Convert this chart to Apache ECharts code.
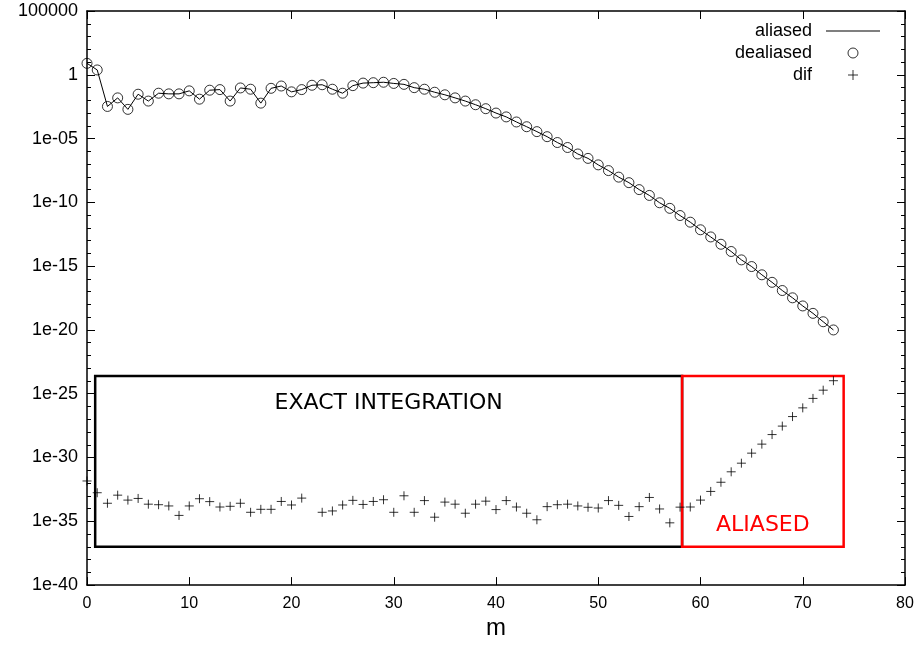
<!DOCTYPE html>
<html>
<head>
<meta charset="utf-8">
<script src="https://cdn.jsdelivr.net/npm/echarts@6/dist/echarts.min.js"></script>
<style>
  html, body { margin: 0; padding: 0; background: #fff; }
  #chart { width: 922px; height: 645px; }
</style>
</head>
<body>
<div id="chart"></div>
<script>
// Mode index m = 0 .. 73
const modes = [
  0, 1, 2, 3, 4, 5, 6, 7, 8, 9, 10, 11, 12, 13, 14, 15, 16, 17, 18, 19,
  20, 21, 22, 23, 24, 25, 26, 27, 28, 29, 30, 31, 32, 33, 34, 35, 36, 37, 38, 39,
  40, 41, 42, 43, 44, 45, 46, 47, 48, 49, 50, 51, 52, 53, 54, 55, 56, 57, 58, 59,
  60, 61, 62, 63, 64, 65, 66, 67, 68, 69, 70, 71, 72, 73
];

// Coefficients from the aliased computation
const aliased = [
  7.9, 2.4, 3.3e-3, 1.55e-2, 1.95e-3, 3.0e-2, 8.7e-3, 3.6e-2, 3.2e-2, 3.2e-2,
  5.5e-2, 1.23e-2, 6.2e-2, 6.9e-2, 8.7e-3, 9.3e-2, 7.4e-2, 6.0e-3, 8.7e-2, 1.32e-1,
  4.6e-2, 6.9e-2, 1.51e-1, 1.66e-1, 7.4e-2, 3.6e-2, 1.41e-1, 2.24e-1, 2.4e-1, 2.6e-1,
  2.1e-1, 1.78e-1, 9.8e-2, 7.4e-2, 4.3e-2, 2.7e-2, 1.55e-2, 8.7e-3, 4.5e-3, 2.2e-3,
  1.0e-3, 5.0e-4, 2.0e-4, 8.5e-5, 3.5e-5, 1.41e-5, 4.9e-6, 2.0e-6, 6.2e-7, 2.8e-7,
  8.7e-8, 3.1e-8, 9.5e-9, 3.5e-9, 1.0e-9, 3.5e-10, 9.3e-11, 3.4e-11, 9.3e-12, 2.8e-12,
  7.1e-13, 1.95e-13, 5.2e-14, 1.41e-14, 3.1e-15, 9.3e-16, 2.1e-16, 5.4e-17, 1.23e-17, 3.3e-18,
  7.6e-19, 2.0e-19, 4.4e-20, 1.0e-20
];

// Coefficients from the dealiased computation (identical at plotting resolution)
const dealiased = [
  7.9, 2.4, 3.3e-3, 1.55e-2, 1.95e-3, 3.0e-2, 8.7e-3, 3.6e-2, 3.2e-2, 3.2e-2,
  5.5e-2, 1.23e-2, 6.2e-2, 6.9e-2, 8.7e-3, 9.3e-2, 7.4e-2, 6.0e-3, 8.7e-2, 1.32e-1,
  4.6e-2, 6.9e-2, 1.51e-1, 1.66e-1, 7.4e-2, 3.6e-2, 1.41e-1, 2.24e-1, 2.4e-1, 2.6e-1,
  2.1e-1, 1.78e-1, 9.8e-2, 7.4e-2, 4.3e-2, 2.7e-2, 1.55e-2, 8.7e-3, 4.5e-3, 2.2e-3,
  1.0e-3, 5.0e-4, 2.0e-4, 8.5e-5, 3.5e-5, 1.41e-5, 4.9e-6, 2.0e-6, 6.2e-7, 2.8e-7,
  8.7e-8, 3.1e-8, 9.5e-9, 3.5e-9, 1.0e-9, 3.5e-10, 9.3e-11, 3.4e-11, 9.3e-12, 2.8e-12,
  7.1e-13, 1.95e-13, 5.2e-14, 1.41e-14, 3.1e-15, 9.3e-16, 2.1e-16, 5.4e-17, 1.23e-17, 3.3e-18,
  7.6e-19, 2.0e-19, 4.4e-20, 1.0e-20
];

// |aliased - dealiased|; m = 22 is exactly zero and has no point on a log scale
const dif = [
  1.45e-32, 1.74e-33, 2.6e-34, 1.12e-33, 4.6e-34, 6.2e-34, 2.2e-34, 2.0e-34, 1.6e-34, 2.9e-35,
  1.6e-34, 5.9e-34, 3.5e-34, 1.32e-34, 1.5e-34, 2.6e-34, 5.1e-35, 8.7e-35, 8.7e-35, 3.6e-34,
  1.9e-34, 6.6e-34, null, 5.1e-35, 6.5e-35, 1.9e-34, 4.4e-34, 2.1e-34, 3.6e-34, 4.9e-34,
  5.1e-35, 1.0e-33, 5.1e-35, 4.2e-34, 2.1e-35, 3.2e-34, 2.2e-34, 4.3e-35, 2.2e-34, 3.8e-34,
  8.3e-35, 4.2e-34, 1.32e-34, 4.3e-35, 1.32e-35, 1.41e-34, 2.0e-34, 2.2e-34, 1.6e-34, 1.26e-34,
  1.1e-34, 4.2e-34, 1.78e-34, 2.4e-35, 1.41e-34, 7.4e-34, 9.3e-35, 7.6e-36, 1.29e-34, 1.32e-34,
  4.6e-34, 2.2e-33, 1.15e-32, 7.6e-32, 3.6e-31, 2.2e-30, 1.12e-29, 6.3e-29, 2.9e-28, 1.62e-27,
  7.8e-27, 4.3e-26, 1.9e-25, 1.05e-24
];

// Region boxes: [m from, m to], [value low, value high]
const exactRegion = { m: [0.8, 58.2], v: [1e-37, 2.5e-24], label: 'EXACT INTEGRATION' };
const aliasedRegion = { m: [58.2, 74], v: [1e-37, 2.5e-24], label: 'ALIASED' };

// The y axis spans 1e-40 .. 1e5, far below what ECharts' log scale can round
// without collapsing to zero, so values are placed on a decade (log10) axis.
const Y_MIN = 1e-40, Y_MAX = 1e5, DECADES_PER_LABEL = 5;
const dec = (v) => Math.log10(v);
const pairs = (ys) => modes
  .map((m, i) => [m, ys[i]])
  .filter(p => p[1] !== null && p[1] > 0)
  .map(p => [p[0], dec(p[1])]);

const FONT = 'Liberation Sans, Arial, Helvetica, sans-serif';
const PLUS = 'path://M0,5L10,5M5,0L5,10';
const LINE_ICON = 'path://M0,0L54,0L54,1.2L0,1.2Z';

function decadeLabel(e) {
  e = Math.round(e);
  if (e >= 0) return String(Math.pow(10, e));
  return '1e-' + String(-e).padStart(2, '0');
}

const majorTick = { show: true, inside: true, length: 8, lineStyle: { color: '#000', width: 1 } };
const frameLine = { show: true, onZero: false, lineStyle: { color: '#000', width: 1.5 } };
const minorTick = { show: true, splitNumber: DECADES_PER_LABEL, length: 4, lineStyle: { color: '#000', width: 1 } };

const chart = echarts.init(document.getElementById('chart'), null, { renderer: 'canvas' });

chart.setOption({
  backgroundColor: '#fff',
  animation: false,
  textStyle: { fontFamily: FONT },
  grid: { left: 87, right: 17, top: 11, bottom: 52, containLabel: false },
  legend: {
    orient: 'vertical',
    align: 'right',
    right: 42,
    top: 22,
    padding: 0,
    itemWidth: 54,
    itemHeight: 10,
    itemGap: 4,
    selectedMode: false,
    textStyle: { fontFamily: FONT, fontSize: 18, color: '#000', padding: [0, 9, 0, 0] },
    data: [
      { name: 'aliased', icon: LINE_ICON, itemStyle: { color: '#000', borderWidth: 0 } },
      { name: 'dealiased', icon: 'circle', itemStyle: { color: '#fff', borderColor: '#000', borderWidth: 1 } },
      { name: 'dif', icon: PLUS, itemStyle: { color: 'none', borderColor: '#000', borderWidth: 1 } }
    ]
  },
  xAxis: [
    {
      type: 'value', position: 'bottom', min: 0, max: 80, interval: 10,
      axisLine: frameLine, axisTick: majorTick, splitLine: { show: false },
      axisLabel: { color: '#000', fontSize: 16, margin: 10, fontFamily: FONT },
      name: 'm', nameLocation: 'middle', nameGap: 24,
      nameTextStyle: { color: '#000', fontSize: 24, fontFamily: FONT }
    },
    {
      type: 'value', position: 'top', min: 0, max: 80, interval: 10,
      axisLine: frameLine, axisTick: majorTick, splitLine: { show: false },
      axisLabel: { show: false }
    }
  ],
  yAxis: [
    {
      type: 'value', position: 'left', min: dec(Y_MIN), max: dec(Y_MAX), interval: DECADES_PER_LABEL,
      axisLine: frameLine, axisTick: majorTick, minorTick: minorTick,
      splitLine: { show: false }, minorSplitLine: { show: false },
      axisLabel: { color: '#000', fontSize: 18, margin: 9, fontFamily: FONT, formatter: decadeLabel }
    },
    {
      type: 'value', position: 'right', min: dec(Y_MIN), max: dec(Y_MAX), interval: DECADES_PER_LABEL,
      axisLine: frameLine, axisTick: majorTick, minorTick: minorTick,
      splitLine: { show: false }, minorSplitLine: { show: false },
      axisLabel: { show: false }
    }
  ],
  series: [
    {
      name: 'aliased', type: 'line', xAxisIndex: 0, yAxisIndex: 0,
      data: pairs(aliased), showSymbol: false, symbol: 'none',
      lineStyle: { color: '#000', width: 1 }, itemStyle: { color: '#000' },
      z: 3
    },
    {
      name: 'dealiased', type: 'scatter', xAxisIndex: 0, yAxisIndex: 0,
      data: pairs(dealiased), symbol: 'circle', symbolSize: 10,
      itemStyle: { color: 'none', borderColor: '#000', borderWidth: 1 },
      z: 4
    },
    {
      name: 'dif', type: 'scatter', xAxisIndex: 0, yAxisIndex: 0,
      data: pairs(dif), symbol: PLUS, symbolSize: 9,
      itemStyle: { color: 'none', borderColor: '#000', borderWidth: 1 },
      z: 4
    },
    {
      name: 'regions', type: 'line', xAxisIndex: 0, yAxisIndex: 0,
      data: [], silent: true, z: 2,
      markArea: {
        silent: true,
        data: [
          [
            {
              coord: [exactRegion.m[0], dec(exactRegion.v[0])],
              itemStyle: { color: 'rgba(0,0,0,0)', borderColor: '#000', borderWidth: 2.5 },
              label: {
                show: true, position: 'insideTop', distance: 18,
                formatter: exactRegion.label, color: '#000',
                fontSize: 22, fontFamily: 'DejaVu Sans, sans-serif'
              }
            },
            { coord: [exactRegion.m[1], dec(exactRegion.v[1])] }
          ],
          [
            {
              coord: [aliasedRegion.m[0], dec(aliasedRegion.v[0])],
              itemStyle: { color: 'rgba(0,0,0,0)', borderColor: '#f00', borderWidth: 2.5 },
              label: {
                show: true, position: 'insideBottom', distance: 12,
                formatter: aliasedRegion.label, color: '#f00',
                fontSize: 22, fontFamily: 'DejaVu Sans, sans-serif'
              }
            },
            { coord: [aliasedRegion.m[1], dec(aliasedRegion.v[1])] }
          ]
        ]
      }
    }
  ]
});
</script>
</body>
</html>
